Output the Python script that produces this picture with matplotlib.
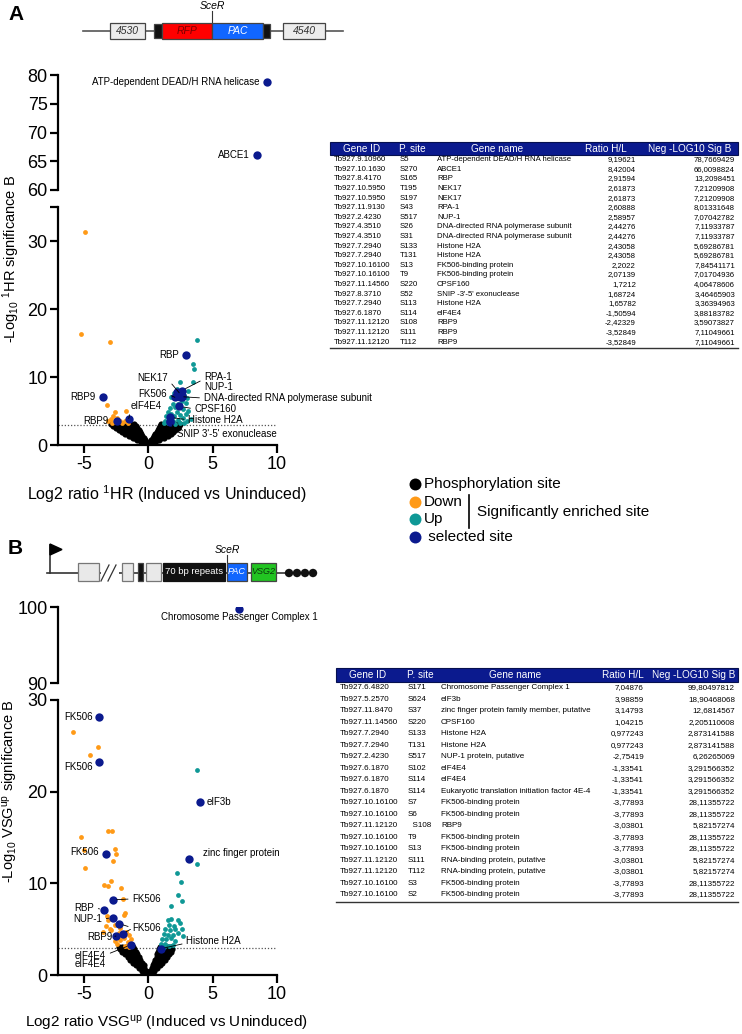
import matplotlib
matplotlib.use('Agg')
import matplotlib.pyplot as plt
from matplotlib.patches import Rectangle, Polygon, Circle

plt.rcParams['font.family'] = ['Liberation Sans', 'DejaVu Sans']
plt.rcParams['mathtext.fontset'] = 'custom'
plt.rcParams['mathtext.rm'] = 'Liberation Sans'
plt.rcParams['mathtext.it'] = 'Liberation Sans:italic'
plt.rcParams['mathtext.bf'] = 'Liberation Sans:bold'
plt.rcParams['axes.unicode_minus'] = False

W, H = 742, 1034
ORANGE = '#ff9a17'
TEAL = '#0f9896'
NAVY = '#0b1a8e'

# ---------------- panel A data ----------------
# black cloud (phosphorylation sites), rows of (-log10 p, [log2 ratios])
phos_A_rows = [
    (0.15, [-0.25, -0.1, 0.1, 0.25]),
    (0.45, [-0.55, -0.35, -0.15, 0.15, 0.35, 0.55]),
    (0.75, [-0.85, -0.65, -0.45, -0.25, 0.25, 0.45, 0.65, 0.85]),
    (1.05, [-1.2, -1.0, -0.8, -0.6, -0.35, 0.35, 0.6, 0.8, 1.0, 1.2]),
    (1.35, [-1.5, -1.3, -1.1, -0.9, -0.7, -0.45, 0.45, 0.7, 0.9, 1.1, 1.3, 1.5]),
    (1.65, [-1.8, -1.6, -1.4, -1.2, -1.0, -0.8, -0.55, 0.55, 0.8, 1.0, 1.2, 1.4, 1.6, 1.75]),
    (1.95, [-2.05, -1.85, -1.65, -1.45, -1.25, -1.05, -0.85, -0.65, 0.65, 0.85, 1.05, 1.25, 1.45, 1.65, 1.95]),
    (2.25, [-2.3, -2.1, -1.9, -1.7, -1.5, -1.3, -1.1, -0.9, -0.75, 0.75, 0.9, 1.1, 1.3, 1.5, 1.7, 1.9, 2.1]),
    (2.55, [-2.5, -2.3, -2.1, -1.9, -1.7, -1.5, -1.3, -1.1, -0.85, 0.85, 1.1, 1.3, 1.5, 1.7, 1.9, 2.1, 2.3]),
    (2.85, [-2.7, -2.5, -2.3, -2.1, -1.9, -1.7, -1.5, -1.3, -0.95, 0.95, 1.2, 1.4, 1.6, 1.8, 2.0, 2.2, 2.4]),
    (3.1, [-2.9, -2.6, -2.4, -2.2, -2.0, -1.8, -1.6, -1.4, -1.1, 1.0, 1.3, 1.5, 1.7, 1.9, 2.1, 2.3, 2.5]),
]
down_A_x = [-4.9, -5.2, -3.0, -3.2, -2.7, -2.6, -1.7, -2.9, -2.5, -2.2, -2.0, -1.8, -1.6, -2.8, -3.1, -2.4]
down_A_y = [31.3, 16.3, 15.2, 5.9, 4.3, 4.9, 5.0, 3.8, 3.4, 3.5, 3.2, 3.6, 3.3, 3.2, 3.5, 4.0]
up_A_x = [3.8, 3.46, 3.57, 2.5, 3.46, 2.2, 2.0, 2.8, 3.0, 2.9, 2.6, 2.3, 1.9, 1.7, 2.1, 2.7, 3.1, 2.9, 1.5,
          1.8, 2.2, 2.5, 1.4, 2.0, 2.7, 1.3, 1.6, 2.3, 3.0, 1.2, 1.5, 1.9, 2.1, 2.5, 2.8, 3.3, 1.8, 2.4, 3.1]
up_A_y = [15.4, 11.9, 11.2, 9.3, 9.2, 8.2, 7.6, 7.4, 6.9, 6.2, 6.5, 6.1, 6.0, 5.4, 5.6, 5.3, 5.0, 4.6, 4.8,
          4.6, 4.8, 4.4, 4.2, 4.2, 3.9, 3.6, 3.9, 3.7, 3.6, 3.2, 3.3, 3.5, 3.1, 3.3, 3.2, 3.8, 7.0, 7.8, 8.0]
sel_A_x = [9.19621, 8.42004, 2.91594, 2.61873, 2.60888, 2.58957, 2.44276, 2.43058, 2.2022, 2.07139,
           1.7212, 1.68724, 1.65782, -1.50594, -2.42329, -3.52849]
sel_A_y = [78.7669429, 66.0098824, 13.2098451, 7.21209908, 8.01331648, 7.07042782, 7.11933787, 5.69286781,
           7.84541171, 7.01704936, 4.06478606, 3.46465903, 3.36394963, 3.88183782, 3.59073827, 7.11049661]

tab_A_id = ['Tb927.9.10960', 'Tb927.10.1630', 'Tb927.8.4170', 'Tb927.10.5950', 'Tb927.10.5950',
            'Tb927.11.9130', 'Tb927.2.4230', 'Tb927.4.3510', 'Tb927.4.3510', 'Tb927.7.2940',
            'Tb927.7.2940', 'Tb927.10.16100', 'Tb927.10.16100', 'Tb927.11.14560', 'Tb927.8.3710',
            'Tb927.7.2940', 'Tb927.6.1870', 'Tb927.11.12120', 'Tb927.11.12120', 'Tb927.11.12120']
tab_A_site = ['S5', 'S270', 'S165', 'T195', 'S197', 'S43', 'S517', 'S26', 'S31', 'S133', 'T131', 'S13',
              'T9', 'S220', 'S52', 'S113', 'S114', 'S108', 'S111', 'T112']
tab_A_name = ['ATP-dependent DEAD/H RNA helicase', 'ABCE1', 'RBP', 'NEK17', 'NEK17', 'RPA-1', 'NUP-1',
              'DNA-directed RNA polymerase subunit', 'DNA-directed RNA polymerase subunit', 'Histone H2A',
              'Histone H2A', 'FK506-binding protein', 'FK506-binding protein', 'CPSF160',
              "SNIP -3'-5' exonuclease", 'Histone H2A', 'eIF4E4', 'RBP9', 'RBP9', 'RBP9']
tab_A_ratio = ['9,19621', '8,42004', '2,91594', '2,61873', '2,61873', '2,60888', '2,58957', '2,44276',
               '2,44276', '2,43058', '2,43058', '2,2022', '2,07139', '1,7212', '1,68724', '1,65782',
               '-1,50594', '-2,42329', '-3,52849', '-3,52849']
tab_A_sig = ['78,7669429', '66,0098824', '13,2098451', '7,21209908', '7,21209908', '8,01331648',
             '7,07042782', '7,11933787', '7,11933787', '5,69286781', '5,69286781', '7,84541171',
             '7,01704936', '4,06478606', '3,46465903', '3,36394963', '3,88183782', '3,59073827',
             '7,11049661', '7,11049661']

# ---------------- panel B data ----------------
phos_B_rows = [
    (0.15, [-0.2, -0.08, 0.08, 0.2]),
    (0.45, [-0.45, -0.3, -0.15, 0.15, 0.3, 0.45]),
    (0.75, [-0.7, -0.5, -0.3, 0.3, 0.5, 0.7]),
    (1.05, [-0.95, -0.75, -0.55, -0.35, 0.35, 0.55, 0.75, 0.9]),
    (1.35, [-1.15, -0.95, -0.75, -0.5, 0.45, 0.7, 0.9, 1.1]),
    (1.65, [-1.4, -1.2, -1.0, -0.8, -0.6, 0.55, 0.75, 0.95, 1.15, 1.3]),
    (1.95, [-1.6, -1.4, -1.2, -1.0, -0.75, 0.65, 0.85, 1.05, 1.25, 1.45]),
    (2.25, [-1.8, -1.6, -1.4, -1.2, -1.0, -0.85, 0.7, 0.9, 1.1, 1.3, 1.5, 1.6]),
    (2.55, [-2.0, -1.8, -1.6, -1.4, -1.2, -0.95, 0.8, 1.0, 1.2, 1.4, 1.6, 1.75]),
    (2.85, [-2.2, -2.0, -1.8, -1.6, -1.4, -1.1, 0.85, 1.05, 1.25, 1.45, 1.65, 1.85]),
    (3.1, [-2.3, -2.0, -1.7, -1.4, -1.2, 0.95, 1.2, 1.5, 1.8]),
]
down_B_x = [-5.8, -3.9, -4.55, -5.2, -3.1, -2.8, -2.6, -4.96, -2.5, -4.9, -2.7, -2.87, -3.46, -3.08, -2.1,
            -1.96, -1.8, -1.9, -3.2, -3.1, -3.3, -2.95, -2.6, -2.2, -2.9, -2.3, -2.0, -1.7, -1.5, -1.9,
            -2.2, -1.6, -1.3, -2.4, -1.8, -1.45, -3.5, -2.6]
down_B_y = [26.5, 24.9, 24.0, 15.1, 15.7, 15.7, 13.8, 13.6, 13.2, 11.7, 12.4, 10.3, 9.8, 9.7, 9.5,
            8.25, 6.8, 6.5, 6.4, 6.0, 5.4, 5.0, 5.5, 5.1, 4.9, 4.6, 4.3, 4.7, 4.4, 4.0,
            3.8, 3.6, 3.9, 3.4, 3.2, 3.1, 4.7, 3.7]
up_B_x = [3.8, 3.82, 2.2, 2.56, 2.3, 2.6, 1.8, 1.5, 1.8, 2.3, 1.6, 2.0, 2.5, 1.3, 1.7, 2.1, 2.6, 1.2, 1.5,
          1.9, 2.3, 1.1, 1.4, 1.8, 2.1, 1.0, 1.3, 1.6, 1.9, 1.2, 2.7]
up_B_y = [22.4, 12.1, 11.1, 10.2, 8.7, 8.1, 7.5, 6.0, 6.1, 6.0, 5.5, 5.4, 5.7, 5.0, 4.9, 5.0, 5.0, 4.5, 4.4,
          4.4, 4.6, 3.9, 3.9, 4.0, 3.7, 3.4, 3.4, 3.2, 3.3, 3.1, 4.3]
sel_B_x = [7.05, -3.78, -3.78, 3.99, -3.26, 3.15, -2.76, -3.46, -2.75, -2.25, -1.99, -2.5, -1.34, 0.98]
sel_B_y = [99.8, 28.1, 23.2, 18.9, 13.2, 12.7, 8.2, 7.1, 6.26, 5.6, 4.5, 4.25, 3.29, 2.87]

tab_B_id = ['Tb927.6.4820', 'Tb927.5.2570', 'Tb927.11.8470', 'Tb927.11.14560', 'Tb927.7.2940',
            'Tb927.7.2940', 'Tb927.2.4230', 'Tb927.6.1870', 'Tb927.6.1870', 'Tb927.6.1870',
            'Tb927.10.16100', 'Tb927.10.16100', 'Tb927.11.12120', 'Tb927.10.16100', 'Tb927.10.16100',
            'Tb927.11.12120', 'Tb927.11.12120', 'Tb927.10.16100', 'Tb927.10.16100']
tab_B_site = ['S171', 'S624', 'S37', 'S220', 'S133', 'T131', 'S517', 'S102', 'S114', 'S114', 'S7', 'S6',
              '  S108', 'T9', 'S13', 'S111', 'T112', 'S3', 'S2']
tab_B_name = ['Chromosome Passenger Complex 1', 'eIF3b', 'zinc finger protein family member, putative',
              'CPSF160', 'Histone H2A', 'Histone H2A', 'NUP-1 protein, putative', 'eIF4E4', 'eIF4E4',
              'Eukaryotic translation initiation factor 4E-4', 'FK506-binding protein',
              'FK506-binding protein', 'RBP9', 'FK506-binding protein', 'FK506-binding protein',
              'RNA-binding protein, putative', 'RNA-binding protein, putative', 'FK506-binding protein',
              'FK506-binding protein']
tab_B_ratio = ['7,04876', '3,98859', '3,14793', '1,04215', '0,977243', '0,977243', '-2,75419', '-1,33541',
               '-1,33541', '-1,33541', '-3,77893', '-3,77893', '-3,03801', '-3,77893', '-3,77893',
               '-3,03801', '-3,03801', '-3,77893', '-3,77893']
tab_B_sig = ['99,80497812', '18,90468068', '12,6814567', '2,205110608', '2,873141588', '2,873141588',
             '6,26265069', '3,291566352', '3,291566352', '3,291566352', '28,11355722', '28,11355722',
             '5,82157274', '28,11355722', '28,11355722', '5,82157274', '5,82157274', '28,11355722',
             '28,11355722']

table_header = ['Gene ID', 'P. site', 'Gene name', 'Ratio H/L', 'Neg -LOG10 Sig B']


def flatten(rows):
    xs = [x for y, r in rows for x in r]
    ys = [y for y, r in rows for x in r]
    return xs, ys


fig = plt.figure(figsize=(W / 100, H / 100), dpi=100)
ov = fig.add_axes([0, 0, 1, 1])
ov.set_xlim(0, W)
ov.set_ylim(H, 0)
ov.axis('off')


def px_axes(l, t, r, b):
    return fig.add_axes([l / W, 1 - b / H, (r - l) / W, (b - t) / H])


def style(ax, ylim, yticks, ylabels, show_x):
    ax.set_facecolor('none')
    ax.set_xlim(-7, 10)
    ax.set_ylim(*ylim)
    ax.spines['top'].set_visible(False)
    ax.spines['right'].set_visible(False)
    ax.spines['left'].set_linewidth(1.6)
    ax.set_yticks(yticks)
    ax.set_yticklabels(ylabels)
    ax.tick_params(axis='y', length=6, width=1.6, labelsize=13, pad=1.5)
    if show_x:
        ax.spines['bottom'].set_linewidth(1.6)
        ax.set_xticks([-5, 0, 5, 10])
        ax.tick_params(axis='x', length=6, width=1.6, labelsize=13, pad=2)
    else:
        ax.spines['bottom'].set_visible(False)
        ax.set_xticks([])


def points(ax, rows, dx, dy, ux, uy, sx, sy):
    bx, by = flatten(rows)
    ax.scatter(bx, by, s=20, color='black', lw=0, zorder=2)
    ax.scatter(dx, dy, s=12, color=ORANGE, lw=0, zorder=3)
    ax.scatter(ux, uy, s=12, color=TEAL, lw=0, zorder=3)
    ax.scatter(sx, sy, s=36, color=NAVY, lw=0, zorder=4)


def lab(ax, text, xy, off, ha='right', va='center'):
    ax.annotate(text, xy=xy, xytext=off, textcoords='offset points', ha=ha, va=va, fontsize=7, zorder=5)


def lline(ax, text, xy, xt, ha='left', rel=(0, 0.5)):
    ax.annotate(text, xy=xy, xytext=xt, textcoords='data', ha=ha, va='center', fontsize=7, zorder=5,
                arrowprops=dict(arrowstyle='-', color='black', lw=0.6, shrinkA=1, shrinkB=3, relpos=rel))


# ---------------- panel A plot ----------------
aU = px_axes(58, 75, 277, 190)
aL = px_axes(58, 207, 277, 445)
style(aU, (60, 80), [60, 65, 70, 75, 80], ['60', '65', '70', '75', '80'], False)
style(aL, (0, 35), [0, 10, 20, 30, 35], ['0', '10', '20', '30', ''], True)
for a in (aU, aL):
    points(a, phos_A_rows, down_A_x, down_A_y, up_A_x, up_A_y, sel_A_x, sel_A_y)
aL.axhline(3, color='#555555', ls=(0, (1, 1.5)), lw=0.9, zorder=1)

lab(aU, 'ATP-dependent DEAD/H RNA helicase', (9.19621, 78.7669429), (-5, 0))
lab(aU, 'ABCE1', (8.42004, 66.0098824), (-5, 0))
lab(aL, 'RBP', (2.91594, 13.2098451), (-5, 0))
lab(aL, 'RBP9', (-3.52849, 7.11049661), (-5, 0))
lab(aL, 'RBP9', (-2.42329, 3.59073827), (-6, 0))
lline(aL, 'eIF4E4', (-1.50594, 3.88183782), (-1.35, 5.8), rel=(0, 0.2))
lline(aL, 'NEK17', (2.61873, 7.21209908), (1.55, 9.9), ha='right', rel=(1, 0.3))
lline(aL, 'RPA-1', (2.60888, 8.01331648), (4.35, 10.0), rel=(0, 0.3))
aL.text(4.35, 8.6, 'NUP-1', fontsize=7, ha='left', va='center')
lline(aL, 'FK506', (2.07139, 7.01704936), (1.47, 7.5), ha='right', rel=(1, 0.5))
lline(aL, 'DNA-directed RNA polymerase subunit', (2.44276, 7.11933787), (4.3, 6.9))
lline(aL, 'CPSF160', (2.43058, 5.69286781), (3.6, 5.3))
lline(aL, 'Histone H2A', (1.7212, 4.06478606), (3.1, 3.7))
lline(aL, "SNIP 3'-5' exonuclease", (1.68724, 3.46465903), (2.25, 1.6), rel=(0, 0.7))

fig.text(11 / W, 1 - 259 / H, r'-Log$_{\mathregular{10}}$ $^{\mathregular{1}}$HR significance B',
         rotation=90, ha='center', va='center', fontsize=10.5)
fig.text(167 / W, 1 - 494 / H, r'Log2 ratio $^{\mathregular{1}}$HR (Induced vs Uninduced)',
         ha='center', va='center', fontsize=11.5)

# ---------------- panel B plot ----------------
bU = px_axes(58, 607, 277, 683)
bL = px_axes(58, 700, 277, 975)
style(bU, (90, 100), [90, 100], ['90', '100'], False)
style(bL, (0, 30), [0, 10, 20, 30], ['0', '10', '20', '30'], True)
for a in (bU, bL):
    points(a, phos_B_rows, down_B_x, down_B_y, up_B_x, up_B_y, sel_B_x, sel_B_y)
bL.axhline(3, color='#555555', ls=(0, (1, 1.5)), lw=0.9, zorder=1)

lab(bU, 'Chromosome Passenger Complex 1', (7.05, 99.8), (0, -6), ha='center')
lab(bL, 'FK506', (-3.78, 28.1), (-5, 0))
lab(bL, 'FK506', (-3.78, 23.2), (-5, -3))
lab(bL, 'eIF3b', (3.99, 18.9), (5, 0), ha='left')
lab(bL, 'zinc finger protein', (3.15, 12.7), (10, 4), ha='left')
lab(bL, 'FK506', (-3.26, 13.2), (-5, 1.5))
lline(bL, 'FK506', (-2.76, 8.2), (-1.24, 8.3))
lline(bL, 'RBP', (-3.46, 7.1), (-4.19, 7.35), ha='right', rel=(1, 0.5))
lline(bL, 'NUP-1', (-2.75, 6.26), (-3.57, 6.1), ha='right', rel=(1, 0.5))
lline(bL, 'FK506', (-2.25, 5.6), (-1.24, 5.15))
lline(bL, '', (-1.99, 4.5), (-1.28, 5.05))
lline(bL, 'RBP9', (-2.5, 4.25), (-2.8, 4.15), ha='right', rel=(1, 0.5))
lline(bL, 'Histone H2A', (0.98, 2.87), (2.95, 3.7), rel=(0, 0.3))
lline(bL, 'eIF4E4', (-1.34, 3.29), (-3.26, 2.1), ha='right', rel=(1, 0.6))
bL.text(-3.26, 1.2, 'eIF4E4', fontsize=7, ha='right', va='center')

fig.text(11 / W, 1 - 791 / H, r'-Log$_{\mathregular{10}}$ VSG$^{\mathregular{up}}$ significance B',
         rotation=90, ha='center', va='center', fontsize=10.5)
fig.text(167 / W, 1 - 1023 / H, r'Log2 ratio VSG$^{\mathregular{up}}$ (Induced vs Uninduced)',
         ha='center', va='center', fontsize=11)

# ---------------- panel letters ----------------
ov.text(8, 14, 'A', fontsize=15, fontweight='bold', ha='left', va='center')
ov.text(8, 548, 'B', fontsize=15, fontweight='bold', ha='left', va='center')


# ---------------- constructs ----------------
def box(x0, x1, y0, y1, fc, ec='#444444', text=None, tc='black', fs=7.5):
    ov.add_patch(Rectangle((x0, y0), x1 - x0, y1 - y0, fc=fc, ec=ec, lw=0.9, zorder=3))
    if text:
        ov.text((x0 + x1) / 2, (y0 + y1) / 2, text, color=tc, fontsize=fs, style='italic',
                ha='center', va='center', zorder=4)


ov.plot([83, 343], [31, 31], color='#555555', lw=1.2, zorder=2)
box(110, 145, 23, 39, '#ececec', text='4530', tc='#333333')
box(154, 162, 24, 38, '#111111')
box(162, 212, 23, 39, '#ff0000', text='RFP', tc='#7a0000')
box(212, 263, 23, 39, '#1166ff', text='PAC', tc='white')
box(263, 270, 24, 38, '#111111')
box(283, 325, 23, 39, '#ececec', text='4540', tc='#333333')
ov.plot([212, 212], [11, 23], color='#333333', lw=0.8)
ov.text(212, 6, 'SceR', fontsize=7.5, style='italic', ha='center', va='center')

ov.plot([47, 285], [573, 573], color='#333333', lw=1.2, zorder=2)
ov.plot([50, 50], [573, 545], color='#333333', lw=1.2)
ov.add_patch(Polygon([[50, 544], [62, 549.5], [50, 555]], closed=True, fc='black', ec='black', zorder=3))
box(78, 99, 563, 581, '#e9e9e9', ec='#777777')
ov.add_patch(Rectangle((101, 565), 18, 14, fc='white', ec='none', zorder=2))
ov.plot([101, 109], [581, 565], color='#333333', lw=0.9)
ov.plot([108, 116], [581, 565], color='#333333', lw=0.9)
box(122, 133, 563, 581, '#e9e9e9', ec='#777777')
box(138, 143, 563, 581, '#111111')
box(146, 161, 563, 581, '#e9e9e9', ec='#777777')
ov.add_patch(Rectangle((163, 563), 62, 18, fc='#111111', ec='#111111', lw=0.9, zorder=3))
ov.text(194, 572, '70 bp repeats', color='white', fontsize=6.8, ha='center', va='center', zorder=4)
box(227, 247, 563, 581, '#1166ff', text='PAC', tc='white', fs=6.5)
box(251, 276, 563, 581, '#22c422', text='VSG2', tc='#0b3a0b', fs=6.5)
for cx in (289, 297, 305, 313):
    ov.add_patch(Circle((cx, 573), 4.2, fc='#111111', ec='none', zorder=3))
ov.plot([227, 227], [555, 563], color='#333333', lw=0.8)
ov.text(227, 550, 'SceR', fontsize=7.5, style='italic', ha='center', va='center')


# ---------------- tables ----------------
def draw_table(left, right, top, hdr_h, row_h, cols_x, hdr_x, fs_row, ids, sites, names, ratios, sigs):
    ov.add_patch(Rectangle((left, top), right - left, hdr_h, fc=NAVY, ec='#06104f', lw=0.8, zorder=3))
    for t, hx in zip(table_header, hdr_x):
        ov.text(hx, top + hdr_h / 2 + 0.5, t, color='white', fontsize=7.2, ha='center', va='center', zorder=4)
    y = top + hdr_h
    for i in range(len(ids)):
        yc = y + row_h * (i + 0.5)
        ov.text(cols_x[0], yc, ids[i], fontsize=fs_row, ha='left', va='center')
        ov.text(cols_x[1], yc, sites[i], fontsize=fs_row, ha='left', va='center')
        ov.text(cols_x[2], yc, names[i], fontsize=fs_row, ha='left', va='center')
        ov.text(cols_x[3], yc, ratios[i], fontsize=fs_row, ha='right', va='center')
        ov.text(cols_x[4], yc, sigs[i], fontsize=fs_row, ha='right', va='center')
    yb = y + row_h * len(ids) + 1
    ov.plot([left, right], [yb, yb], color='#333333', lw=1.0)


draw_table(330, 738, 142, 13, 9.6, [334, 400, 437, 636, 735], [362, 412, 497, 606, 690], 5.6,
           tab_A_id, tab_A_site, tab_A_name, tab_A_ratio, tab_A_sig)
draw_table(336, 738, 668, 14, 11.5, [340, 408, 441, 644, 735], [368, 420, 515, 623, 694], 5.8,
           tab_B_id, tab_B_site, tab_B_name, tab_B_ratio, tab_B_sig)

# ---------------- legend ----------------
leg_y = [484, 502, 519, 537]
leg_c = ['black', ORANGE, TEAL, NAVY]
leg_t = ['Phosphorylation site', 'Down', 'Up', ' selected site']
for yy, cc, tt in zip(leg_y, leg_c, leg_t):
    ov.plot([415], [yy], 'o', ms=8.6, color=cc, mec='none')
    ov.text(424, yy, tt, fontsize=11, ha='left', va='center')
ov.plot([469, 469], [495, 528], color='black', lw=1.2)
ov.text(477, 512, 'Significantly enriched site', fontsize=11, ha='left', va='center')

fig.savefig('out.png', dpi=100)
